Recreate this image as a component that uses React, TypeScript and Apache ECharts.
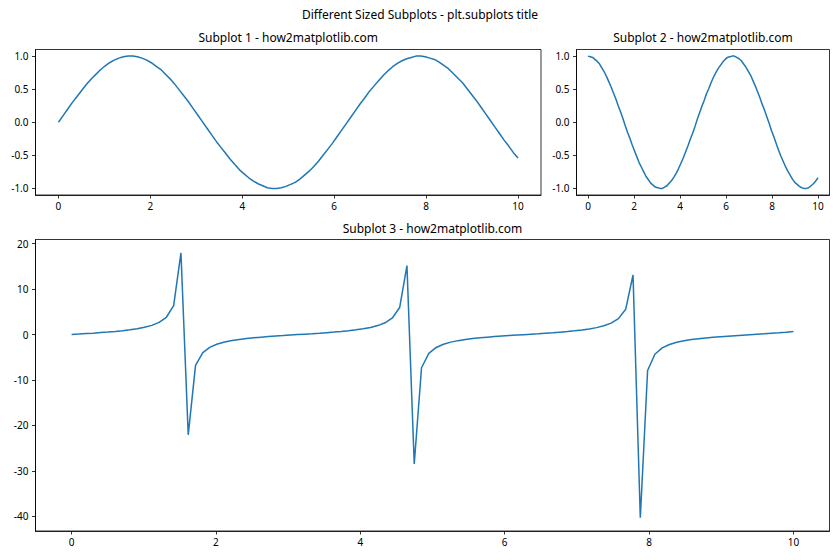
import React, { useEffect, useRef } from "react";
import * as echarts from "echarts";

const xValues = [
  0, 0.101, 0.202, 0.303, 0.404, 0.505, 0.606, 0.707, 0.808, 0.909,
  1.010, 1.111, 1.212, 1.313, 1.414, 1.515, 1.616, 1.717, 1.818, 1.919,
  2.020, 2.121, 2.222, 2.323, 2.424, 2.525, 2.626, 2.727, 2.828, 2.929,
  3.030, 3.131, 3.232, 3.333, 3.434, 3.535, 3.636, 3.737, 3.838, 3.939,
  4.040, 4.141, 4.242, 4.343, 4.444, 4.545, 4.646, 4.747, 4.848, 4.949,
  5.051, 5.152, 5.253, 5.354, 5.455, 5.556, 5.657, 5.758, 5.859, 5.960,
  6.061, 6.162, 6.263, 6.364, 6.465, 6.566, 6.667, 6.768, 6.869, 6.970,
  7.071, 7.172, 7.273, 7.374, 7.475, 7.576, 7.677, 7.778, 7.879, 7.980,
  8.081, 8.182, 8.283, 8.384, 8.485, 8.586, 8.687, 8.788, 8.889, 8.990,
  9.091, 9.192, 9.293, 9.394, 9.495, 9.596, 9.697, 9.798, 9.899, 10,
];

const sinValues = [
  0, 0.10, 0.20, 0.30, 0.39, 0.48, 0.57, 0.65, 0.72, 0.79,
  0.85, 0.90, 0.94, 0.97, 0.99, 1.00, 1.00, 0.99, 0.97, 0.94,
  0.90, 0.85, 0.80, 0.73, 0.66, 0.58, 0.49, 0.40, 0.31, 0.21,
  0.11, 0.01, -0.09, -0.19, -0.29, -0.38, -0.47, -0.56, -0.64, -0.72,
  -0.78, -0.84, -0.89, -0.93, -0.96, -0.99, -1.00, -1.00, -0.99, -0.97,
  -0.94, -0.91, -0.86, -0.80, -0.74, -0.67, -0.59, -0.50, -0.41, -0.32,
  -0.22, -0.12, -0.02, 0.08, 0.18, 0.28, 0.37, 0.47, 0.55, 0.63,
  0.71, 0.78, 0.84, 0.89, 0.93, 0.96, 0.98, 1.00, 1.00, 0.99,
  0.97, 0.95, 0.91, 0.86, 0.81, 0.74, 0.67, 0.60, 0.51, 0.42,
  0.33, 0.23, 0.13, 0.03, -0.07, -0.17, -0.27, -0.36, -0.46, -0.54,
];

const cosValues = [
  1.00, 0.99, 0.98, 0.95, 0.92, 0.88, 0.82, 0.76, 0.69, 0.61,
  0.53, 0.44, 0.35, 0.25, 0.16, 0.06, -0.05, -0.15, -0.24, -0.34,
  -0.43, -0.52, -0.61, -0.68, -0.75, -0.82, -0.87, -0.92, -0.95, -0.98,
  -0.99, -1.00, -1.00, -0.98, -0.96, -0.92, -0.88, -0.83, -0.77, -0.70,
  -0.62, -0.54, -0.45, -0.36, -0.26, -0.17, -0.07, 0.04, 0.14, 0.24,
  0.33, 0.43, 0.51, 0.60, 0.68, 0.75, 0.81, 0.86, 0.91, 0.95,
  0.98, 0.99, 1.00, 1.00, 0.98, 0.96, 0.93, 0.88, 0.83, 0.77,
  0.71, 0.63, 0.55, 0.46, 0.37, 0.27, 0.18, 0.08, -0.02, -0.13,
  -0.22, -0.32, -0.42, -0.51, -0.59, -0.67, -0.74, -0.80, -0.86, -0.91,
  -0.94, -0.97, -0.99, -1.00, -1.00, -0.99, -0.96, -0.93, -0.89, -0.84,
];

const tanValues = [
  0, 0.10, 0.21, 0.31, 0.43, 0.55, 0.69, 0.85, 1.05, 1.28,
  1.59, 2.02, 2.67, 3.80, 6.35, 17.95, -22.05, -6.79, -3.96, -2.76,
  -2.08, -1.64, -1.31, -1.07, -0.87, -0.71, -0.57, -0.44, -0.32, -0.22,
  -0.11, -0.01, 0.09, 0.19, 0.30, 0.42, 0.54, 0.68, 0.84, 1.03,
  1.26, 1.56, 1.97, 2.58, 3.64, 5.94, 15.17, -28.47, -7.30, -4.14,
  -2.84, -2.13, -1.67, -1.34, -1.09, -0.89, -0.72, -0.58, -0.45, -0.34,
  -0.23, -0.12, -0.02, 0.08, 0.18, 0.29, 0.40, 0.53, 0.66, 0.82,
  1.00, 1.23, 1.52, 1.92, 2.51, 3.50, 5.57, 13.10, -40.30, -7.90,
  -4.33, -2.94, -2.19, -1.71, -1.37, -1.11, -0.91, -0.74, -0.59, -0.46,
  -0.35, -0.24, -0.13, -0.03, 0.07, 0.17, 0.28, 0.39, 0.51, 0.65,
];

const xTicks = [0, 2, 4, 6, 8, 10];
const trigTicks = [-1, -0.5, 0, 0.5, 1];
const tanTicks = [-40, -30, -20, -10, 0, 10, 20];

const mainTitle = "Different Sized Subplots - plt.subplots title";
const subTitles = [
  "Subplot 1 - how2matplotlib.com",
  "Subplot 2 - how2matplotlib.com",
  "Subplot 3 - how2matplotlib.com",
];

const FONT = "'Segoe UI', 'Noto Sans', 'DejaVu Sans', sans-serif";
const LINE = "#1f77b4";

function pairs(xs: number[], ys: number[]) {
  return xs.map((x, i) => [x, ys[i]]);
}

function fmtTrig(v: number) {
  return v.toFixed(1);
}

export default function App() {
  const ref = useRef<HTMLDivElement>(null);
  useEffect(() => {
    if (!ref.current) return;
    const chart = echarts.init(ref.current, undefined, { renderer: "svg" });

    const grids = [
      { left: 35.5, top: 49.5, width: 505.5, height: 145.5 },
      { left: 576.5, top: 49.5, width: 253, height: 145.5 },
      { left: 35.5, top: 239.5, width: 794, height: 291.5 },
    ];

    const axisLine = { show: true, onZero: false, lineStyle: { color: "#000", width: 0.8 } };

    const xAxisBase = (gridIndex: number) => ({
      type: "value",
      gridIndex,
      position: "bottom",
      min: -0.5,
      max: 10.5,
      splitLine: { show: false },
      axisLine,
      axisTick: {
        show: true,
        inside: false,
        length: 3.5,
        customValues: xTicks,
        lineStyle: { color: "#000", width: 0.8 },
      },
      axisLabel: {
        customValues: xTicks,
        margin: 6,
        color: "#000",
        fontSize: 10,
        fontFamily: FONT,
        formatter: (v: number) => String(v),
      },
    });

    const yAxisBase = (
      gridIndex: number,
      min: number,
      max: number,
      ticks: number[],
      fmt: (v: number) => string
    ) => ({
      type: "value",
      gridIndex,
      position: "left",
      min,
      max,
      splitLine: { show: false },
      axisLine,
      axisTick: {
        show: true,
        inside: false,
        length: 3.5,
        customValues: ticks,
        lineStyle: { color: "#000", width: 0.8 },
      },
      axisLabel: {
        customValues: ticks,
        margin: 7,
        color: "#000",
        fontSize: 10,
        fontFamily: FONT,
        formatter: fmt,
      },
    });

    const titleCenters = [
      { x: grids[0].left + grids[0].width / 2, y: 31 },
      { x: grids[1].left + grids[1].width / 2, y: 31 },
      { x: grids[2].left + grids[2].width / 2, y: 222 },
    ];

    chart.setOption({
      animation: false,
      backgroundColor: "#fff",
      title: [
        {
          text: mainTitle,
          left: 420,
          top: 8,
          textAlign: "center",
          padding: 0,
          textStyle: { fontSize: 12, fontWeight: "normal", color: "#000", fontFamily: FONT },
        },
        ...subTitles.map((t, i) => ({
          text: t,
          left: titleCenters[i].x,
          top: titleCenters[i].y,
          textAlign: "center",
          padding: 0,
          textStyle: { fontSize: 12, fontWeight: "normal", color: "#000", fontFamily: FONT },
        })),
      ],
      grid: grids.map((g) => ({
        ...g,
        show: true,
        borderColor: "#000",
        borderWidth: 0.8,
        backgroundColor: "transparent",
        containLabel: false,
      })),
      xAxis: [xAxisBase(0), xAxisBase(1), xAxisBase(2)],
      yAxis: [
        yAxisBase(0, -1.1, 1.1, trigTicks, fmtTrig),
        yAxisBase(1, -1.1, 1.1, trigTicks, fmtTrig),
        yAxisBase(2, -43.2, 20.9, tanTicks, (v: number) => String(v)),
      ],
      series: [
        { data: pairs(xValues, sinValues), xAxisIndex: 0, yAxisIndex: 0 },
        { data: pairs(xValues, cosValues), xAxisIndex: 1, yAxisIndex: 1 },
        { data: pairs(xValues, tanValues), xAxisIndex: 2, yAxisIndex: 2 },
      ].map((s) => ({
        ...s,
        type: "line",
        showSymbol: false,
        symbol: "none",
        lineStyle: { color: LINE, width: 1.5 },
        clip: true,
      })),
    });

    return () => chart.dispose();
  }, []);

  return <div ref={ref} style={{ width: 840, height: 560, margin: -8 }} />;
}
